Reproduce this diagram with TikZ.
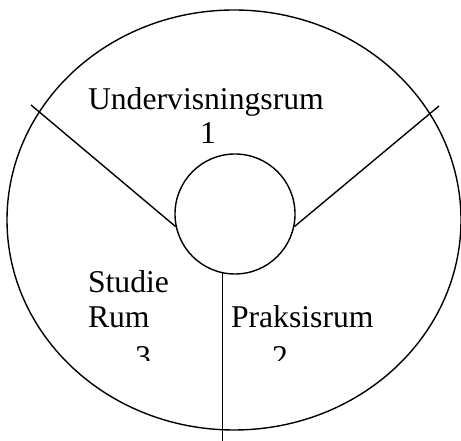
\documentclass[tikz,border=0pt]{standalone}
\usepackage{fontspec}
\setmainfont{Liberation Serif}
\begin{document}
\begin{tikzpicture}[x=1bp,y=1bp,
  stroke/.style={line width=1.4bp, black},
  lbl/.style={inner sep=0pt, outer sep=0pt, font=\fontsize{31.8}{35}\selectfont}]
\useasboundingbox (0,0) rectangle (461,441);
% outer ellipse
\draw[stroke] (234,221) ellipse [x radius=227, y radius=210];
% inner circle
\node[stroke, draw, circle, minimum size=120bp, inner sep=0pt] (c) at (235,227) {};
% free ends of connectors
\coordinate (lt) at (31,336);
\coordinate (rt) at (439,335);
\coordinate (bt) at (223,0);
\draw[stroke] (c.192.4) -- (lt);
\draw[stroke] (c.348.7) -- (rt);
\draw[stroke] (c.258.5) -- (c.258.5 |- bt);
% labels
\node[lbl, anchor=base west] (u) at (88,331) {Undervisningsrum};
\node[lbl, anchor=base] (n1) at (208,297) {1};
\node[lbl, anchor=base west] (s) at (88,148) {Studie};
\node[lbl, anchor=base west] (r) at (88,113) {Rum};
\node[lbl, anchor=base west] (p) at (231,113) {Praksisrum};
\begin{scope}
  \clip (0,80) rectangle (461,441);
  \node[lbl, anchor=base] (n3) at (143,73) {3};
  \node[lbl, anchor=base] (n2) at (280,73) {2};
\end{scope}
\end{tikzpicture}
\end{document}
